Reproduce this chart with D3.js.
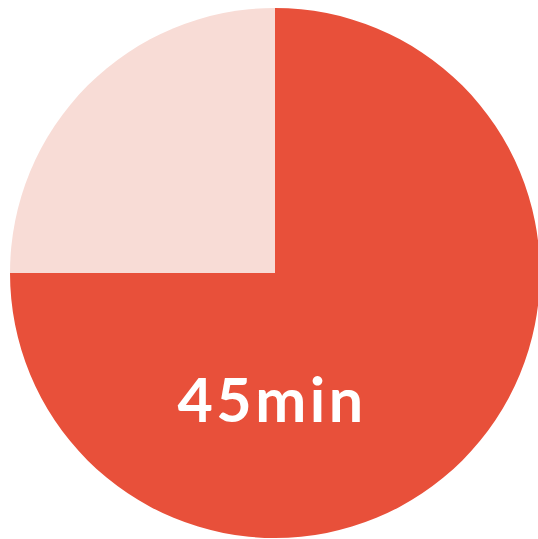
<!DOCTYPE html>
<html><head><meta charset="utf-8">
<script src="https://cdn.jsdelivr.net/npm/d3@7"></script>
<style>html,body{margin:0;padding:0;background:#fff;overflow:hidden}</style>
</head><body>
<svg id="c" width="538" height="539"></svg>
<script>
const categories = ["Elapsed", "Remaining"];
const values = [45, 15];
const colors = ["#E8503A", "#F8DCD6"];
const label = "45min";

const svg = d3.select("#c");
const cx = 275, cy = 273, r = 265;
const g = svg.append("g").attr("transform", `translate(${cx},${cy})`);
const pie = d3.pie().sort(null).value(d => d.v);
const arcs = pie(categories.map((c, i) => ({c, v: values[i]})));
const arc = d3.arc().innerRadius(0).outerRadius(r);
const color = d3.scaleOrdinal().domain(categories).range(colors);
g.selectAll("path").data(arcs).join("path")
  .attr("d", arc).attr("fill", d => color(d.data.c));
svg.append("text").attr("x", 272).attr("y", 422)
  .attr("text-anchor", "middle")
  .attr("font-family", "Lato, sans-serif").attr("font-weight", "bold")
  .attr("font-size", 61).attr("letter-spacing", 3.5).attr("fill", "#fff")
  .text(label);
</script>
</body></html>
